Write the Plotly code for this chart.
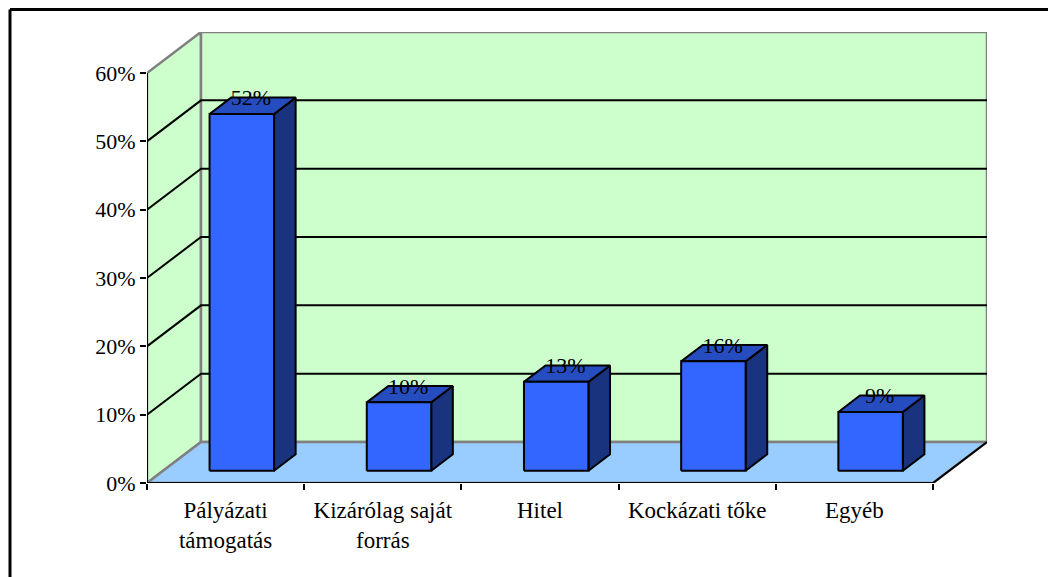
import plotly.graph_objects as go

categories = ["Pályázati<br>támogatás", "Kizárólag saját<br>forrás", "Hitel", "Kockázati tőke", "Egyéb"]
values = [52.2, 10, 13, 16, 8.6]
y_ticks = [0, 10, 20, 30, 40, 50, 60]

FONT = "Liberation Serif"
WALL = "#CCFFCC"
FLOOR = "#99CCFF"
FRONT = "#3366FF"
TOP = "#264DBF"
SIDE = "#1A337F"
GRAY = "#808080"

# depth of the fake 3d box, in axis units
DX = 54 / 157.2
DY = 41 / 6.832
BAR_W = 0.41
BAR_NEAR = 0.3
BAR_FAR = 0.7


def proj(x, y, d):
    return x + d * DX, y + d * DY


def poly(points, fill=None, color="black", width=2):
    xs = [p[0] for p in points]
    ys = [p[1] for p in points]
    return go.Scatter(x=xs, y=ys, mode="lines", fill="toself" if fill else None,
                      fillcolor=fill, line=dict(color=color, width=width),
                      hoverinfo="skip", showlegend=False, cliponaxis=False)


fig = go.Figure()
n = len(categories)
top = y_ticks[-1]

# walls and floor
fig.add_trace(poly([proj(0, 0, 0), proj(0, top, 0), proj(0, top, 1), proj(0, 0, 1), proj(0, 0, 0)], WALL, GRAY, 2.5))
fig.add_trace(poly([proj(0, 0, 1), proj(0, top, 1), proj(n, top, 1), proj(n, 0, 1), proj(0, 0, 1)], WALL, GRAY, 2.5))
fig.add_trace(poly([proj(0, 0, 0), proj(n, 0, 0), proj(n, 0, 1), proj(0, 0, 1), proj(0, 0, 0)], FLOOR, GRAY, 2.5))
fig.add_trace(poly([proj(0, 0, 0), proj(n, 0, 0), proj(n, 0, 1)]))
fig.add_trace(poly([proj(0, 0, 0), proj(0, top, 0)]))

# gridlines
for t in y_ticks[1:-1]:
    fig.add_trace(poly([proj(0, t, 0), proj(0, t, 1), proj(n, t, 1)]))

# bars
label_x, label_y = [], []
for i, v in enumerate(values):
    left = i + (1 - BAR_W) / 2
    right = left + BAR_W
    near_l_b = proj(left, 0, BAR_NEAR)
    near_r_b = proj(right, 0, BAR_NEAR)
    near_r_t = proj(right, v, BAR_NEAR)
    near_l_t = proj(left, v, BAR_NEAR)
    far_l_t = proj(left, v, BAR_FAR)
    far_r_t = proj(right, v, BAR_FAR)
    far_r_b = proj(right, 0, BAR_FAR)
    fig.add_trace(poly([near_r_b, near_r_t, far_r_t, far_r_b, near_r_b], SIDE))
    fig.add_trace(poly([near_l_t, near_r_t, far_r_t, far_l_t, near_l_t], TOP))
    fig.add_trace(poly([near_l_b, near_r_b, near_r_t, near_l_t, near_l_b], FRONT))
    # labels sit near the back edge of the top face
    label_x.append(proj(i + 0.5, v, 0.47)[0])
    label_y.append(proj(i + 0.5, v, 0.65)[1])

fig.add_trace(go.Scatter(x=label_x, y=label_y, mode="text",
                         text=[f"{v:.0f}%" for v in values],
                         textposition="middle center",
                         textfont=dict(family=FONT, size=22, color="black"),
                         hoverinfo="skip", showlegend=False, cliponaxis=False))

# the page body adds 8px, so the margins are 8 less than the picture positions
fig.update_layout(
    width=1048, height=569,
    margin=dict(l=139, r=69, t=24, b=94, autoexpand=False),
    paper_bgcolor="white", plot_bgcolor="white",
    font=dict(family=FONT, size=22, color="black"),
    showlegend=False,
    xaxis=dict(range=[0, n + DX], showgrid=False, zeroline=False, showline=False,
               tickmode="array", tickvals=[i + 0.5 for i in range(n)], ticktext=categories,
               ticks="", tickangle=0, ticklabelstandoff=11, tickfont=dict(size=23),
               minor=dict(tickmode="array", tickvals=list(range(n + 1)), ticks="outside",
                          ticklen=6, tickwidth=2, tickcolor="black")),
    yaxis=dict(range=[0, top + DY], showgrid=False, zeroline=False, showline=False,
               tickmode="array", tickvals=y_ticks, ticktext=[f"{t}%" for t in y_ticks],
               ticks="outside", ticklen=6, tickwidth=2, tickcolor="black"),
)

# outer frame of the chart area, only top and left show in the window
frame_x = (2 - 139) / 840
frame_top = (475 - 1.5) / 451
fig.add_shape(type="line", xref="paper", yref="paper", x0=frame_x, x1=1.2,
              y0=frame_top, y1=frame_top, line=dict(color="black", width=3))
fig.add_shape(type="line", xref="paper", yref="paper", x0=frame_x, x1=frame_x,
              y0=frame_top, y1=-0.3, line=dict(color="black", width=3))

fig.write_html("out.html")
